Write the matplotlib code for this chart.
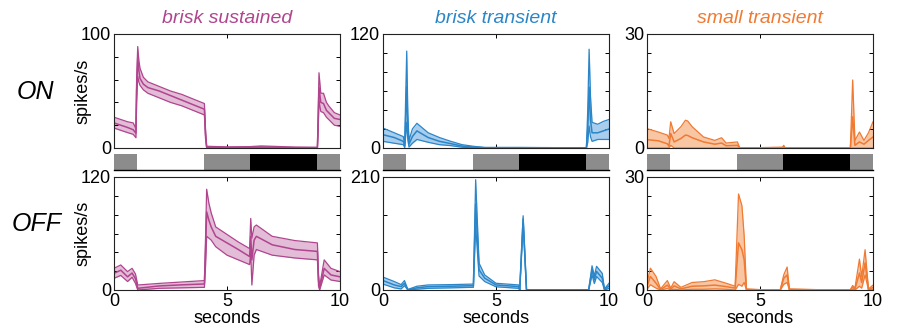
import numpy as np
import matplotlib
matplotlib.use("Agg")
import matplotlib.pyplot as plt
from matplotlib.ticker import MultipleLocator, FixedLocator

plt.rcParams['font.family'] = ['Liberation Sans', 'DejaVu Sans']

cell_types = ['brisk sustained', 'brisk transient', 'small transient']
line_colors = ['#b0458e', '#2a86c8', '#f07a32']
fill_colors = ['#e3bcd8', '#a9cdec', '#f9c6a4']
row_names = ['ON', 'OFF']
ymax = [[100, 120, 30], [120, 210, 30]]
ystep = [[20, 20, 5], [20, 70, 5]]

# stimulus: (start, end, shade)
stim_start = [0, 1, 4, 6, 9]
stim_end = [1, 4, 6, 9, 10]
stim_color = ['#8c8c8c', 'white', '#8c8c8c', 'black', '#8c8c8c']

# ---- ON, brisk sustained ----
bs_on_t = [0, 0.3, 0.6, 0.85, 0.97, 1.0, 1.05, 1.1, 1.15, 1.3, 1.5, 2, 2.5, 3, 3.5, 4, 4.05, 4.1,
           5, 6, 6.5, 7, 8, 9, 9.03, 9.07, 9.15, 9.27, 9.4, 9.5, 9.75, 10]
bs_on_mid = [22, 20, 18, 16, 13, 50, 79, 68, 61, 56, 53, 50, 46, 42, 38, 34, 12, 0.8,
             0.5, 0.6, 1.0, 0.8, 0.4, 0.3, 20, 53, 40, 39, 33, 31, 26, 25]
bs_on_lo = [17.5, 15.5, 13.5, 12, 9, 40, 63, 58, 55, 51, 48, 44, 40, 37, 33, 29, 8, 0,
            0, 0, 0.2, 0.1, 0, 0, 12, 42, 32, 31, 27, 25, 20, 19]
bs_on_hi = [27, 25, 23, 22, 17, 60, 89, 77, 70, 62, 58, 54, 50, 47, 43, 39, 16, 1.5,
            1, 1.2, 1.8, 1.5, 0.8, 0.6, 28, 66, 48, 48, 40, 37, 31, 29]

# ---- ON, brisk transient ----
bt_on_t = [0, 0.5, 0.9, 0.96, 1.0, 1.05, 1.1, 1.15, 1.3, 1.5, 2, 2.5, 3, 3.5, 4, 4.5,
           6, 7.5, 9.0, 9.06, 9.12, 9.18, 9.25, 9.5, 9.75, 10]
bt_on_mid = [14, 11, 7, 2, 30, 65, 20, 4, 12, 18, 11, 7, 4.6, 2, 1, 0.3,
             0.3, 0.2, 0.1, 20, 64, 30, 16, 16, 18, 20]
bt_on_lo = [7, 5, 3.5, 0.5, 12, 27, 8, 1, 5, 9, 6, 3.5, 2.5, 0.8, 0.3, 0,
            0, 0, 0, 6, 23, 12, 7, 9, 9, 9]
bt_on_hi = [21, 16, 12, 4, 50, 102, 35, 8, 20, 26, 16, 11, 7, 3.5, 1.8, 0.6,
            0.6, 0.4, 0.2, 40, 104, 55, 27, 25, 28, 30]

# ---- ON, small transient ----
st_on_t = [0, 0.5, 0.9, 0.97, 1.05, 1.2, 1.5, 1.7, 1.8, 2, 2.5, 3, 3.3, 3.5, 4, 4.1,
           5, 6.0, 6.05, 6.1, 7, 9.0, 9.05, 9.1, 9.2, 9.4, 9.6, 9.8, 10]
st_on_mid = [2.2, 1.9, 1.1, 0.5, 3.8, 1.6, 2.5, 3.4, 3.3, 2.7, 1.6, 1.0, 1.3, 0.6, 0.7, 0.05,
             0.05, 0.1, 0.4, 0.05, 0.05, 0.05, 4, 8.2, 0.7, 1.6, 1.0, 2.0, 2.9]
st_on_lo = [0, 0, 0, 0, 0.7, 0, 0, 0, 0, 0, 0, 0, 0, 0, 0, 0,
            0, 0, 0, 0, 0, 0, 0, 0, 0, 0, 0, 0, 0]
st_on_hi = [5.1, 4.2, 3.4, 2.5, 6.9, 3.8, 5.6, 7.3, 7.1, 5.6, 2.9, 2.0, 2.7, 1.3, 1.6, 0.1,
            0.1, 0.2, 0.7, 0.1, 0.1, 0.1, 9, 17.9, 2.0, 4.2, 2.0, 4.0, 6.9]

# ---- OFF, brisk sustained ----
bs_off_t = [0, 0.3, 0.6, 0.8, 0.95, 1.05, 2, 3, 4, 4.05, 4.1, 4.2, 4.3, 4.5, 5, 5.5, 6, 6.05,
            6.1, 6.2, 6.3, 7, 8, 9, 9.05, 9.1, 9.3, 9.6, 10]
bs_off_mid = [17.7, 21, 14, 18, 12, 1.8, 4.3, 5.5, 6.4, 40, 83, 74, 67, 57, 50, 43, 35.5, 57,
              32, 53, 57, 48, 43, 41, 10, 1.8, 23, 16, 14]
bs_off_lo = [12.4, 15.5, 9, 13.5, 7, 0, 1.8, 2.3, 2.8, 25, 57, 55, 53, 46, 37, 32, 27, 40,
             5.3, 37, 43, 37, 34, 32, 4, 0, 16, 10.6, 9]
bs_off_hi = [23, 26.6, 19.5, 23, 17, 5.3, 7, 8.5, 10, 55, 107, 92, 82, 67, 59, 51, 44, 76,
             55, 67, 69, 57, 52.5, 50, 16, 4, 32, 23, 19.5]

# ---- OFF, brisk transient ----
bt_off_t = [0, 0.5, 0.8, 0.95, 1.1, 1.5, 2, 3, 4, 4.1, 4.25, 4.5, 5, 6, 6.05, 6.2, 6.35,
            7.5, 9.1, 9.25, 9.35, 9.45, 9.7, 9.8, 10]
bt_off_mid = [17.5, 9.4, 6.3, 12.5, 0.5, 4, 6.3, 7, 8, 160, 37.6, 22, 9.4, 6.3, 0.3, 132, 0.3,
              0.2, 0.2, 37.6, 19, 34.5, 22, 1, 7.5]
bt_off_lo = [11, 4, 2, 8, 0, 1.5, 3.1, 4, 5, 119, 26, 15.7, 6, 3.1, 0, 122, 0,
             0, 0, 28, 12, 25, 14, 0, 3]
bt_off_hi = [24, 15.7, 10, 17.5, 1, 7, 9.4, 10, 11, 205, 50, 28, 12.5, 9.4, 0.6, 138, 0.6,
             0.4, 0.4, 45, 26, 44, 31, 2, 12.5]

# ---- OFF, small transient ----
st_off_t = [0, 0.15, 0.4, 0.6, 0.9, 1.05, 1.2, 1.5, 2, 2.5, 3, 3.5, 3.9, 4.05, 4.2, 4.3,
            4.4, 5, 5.9, 6.05, 6.2, 6.3, 7.5, 9.0, 9.1, 9.2, 9.4, 9.5, 9.65, 9.8, 10]
st_off_mid = [0.9, 3.6, 1.8, 0.1, 1.3, 0.2, 1.1, 0.3, 1.0, 1.1, 1.3, 0.9, 0.5, 12.5, 10.7, 8,
              0.1, 0.05, 0.05, 3.1, 4.0, 0.1, 0.05, 0.05, 0.7, 0.2, 4.5, 2.0, 7.2, 0.1, 0.7]
st_off_lo = [0.2, 1.4, 0.5, 0, 0.4, 0, 0.2, 0, 0.2, 0.2, 0.3, 0.2, 0, 1.5, 1, 2,
             0, 0, 0, 1.5, 2, 0, 0, 0, 0.1, 0, 1, 0.5, 4, 0, 0.2]
st_off_hi = [1.8, 5.8, 3.6, 0.3, 2.5, 0.5, 2.2, 0.7, 2.0, 2.2, 2.7, 1.8, 1.0, 25.5, 22.4, 14.3,
             0.3, 0.1, 0.1, 4.0, 6.1, 0.3, 0.1, 0.1, 1.2, 0.5, 8.2, 3.5, 10.7, 0.3, 1.3]

panels = [
    [(bs_on_t, bs_on_lo, bs_on_mid, bs_on_hi),
     (bt_on_t, bt_on_lo, bt_on_mid, bt_on_hi),
     (st_on_t, st_on_lo, st_on_mid, st_on_hi)],
    [(bs_off_t, bs_off_lo, bs_off_mid, bs_off_hi),
     (bt_off_t, bt_off_lo, bt_off_mid, bt_off_hi),
     (st_off_t, st_off_lo, st_off_mid, st_off_hi)],
]

W, H = 897, 329
fig = plt.figure(figsize=(W / 100, H / 100), dpi=100)

col_left = [114, 383, 647]
col_w = 226
row_top = [34, 177]
row_h = [114, 113]
stim_top, stim_h = 154, 16


def px_box(x, y, w, h):
    return [x / W, 1 - (y + h) / H, w / W, h / H]


for c in range(3):
    # stimulus bar
    sax = fig.add_axes(px_box(col_left[c], stim_top, col_w, stim_h))
    for s0, s1, sc in zip(stim_start, stim_end, stim_color):
        sax.axvspan(s0, s1, color=sc, lw=0)
    sax.set_xlim(0, 10)
    sax.set_ylim(0, 1)
    for sp in ['top', 'left', 'right']:
        sax.spines[sp].set_visible(False)
    sax.spines['bottom'].set_linewidth(1.0)
    sax.set_xticks([])
    sax.set_yticks([])

    for r in range(2):
        ax = fig.add_axes(px_box(col_left[c], row_top[r], col_w, row_h[r]))
        t, lo, mid, hi = panels[r][c]
        ax.fill_between(t, lo, hi, color=fill_colors[c], lw=0)
        ax.plot(t, lo, color=line_colors[c], lw=0.9)
        ax.plot(t, hi, color=line_colors[c], lw=0.9)
        ax.plot(t, mid, color=line_colors[c], lw=1.1)
        ax.set_xlim(0, 10)
        ax.set_ylim(0, ymax[r][c])
        ax.yaxis.set_major_locator(FixedLocator([0, ymax[r][c]]))
        ax.yaxis.set_minor_locator(MultipleLocator(ystep[r][c]))
        ax.xaxis.set_major_locator(FixedLocator([0, 5, 10]))
        ax.tick_params(which='both', direction='in', top=True, right=True,
                       length=3, width=0.7, labelsize=13, pad=2)
        ax.tick_params(axis='x', pad=2.5)
        for sp in ax.spines.values():
            sp.set_linewidth(0.8)
            sp.set_color('#222222')
        if r == 0:
            ax.set_xticklabels([])
            ax.set_title(cell_types[c], color=line_colors[c], style='italic',
                         fontsize=14, pad=8)
        else:
            ax.set_xlabel('seconds', fontsize=13, labelpad=0)
        if c == 0:
            ax.set_ylabel('spikes/s', fontsize=13)
            ax.yaxis.set_label_coords(-0.1, 0.5)

fig.text(35 / W, 1 - 92 / H, 'ON', fontsize=18, style='italic', ha='center', va='center')
fig.text(37 / W, 1 - 224 / H, 'OFF', fontsize=18, style='italic', ha='center', va='center')

fig.savefig('out.png', dpi=100)
